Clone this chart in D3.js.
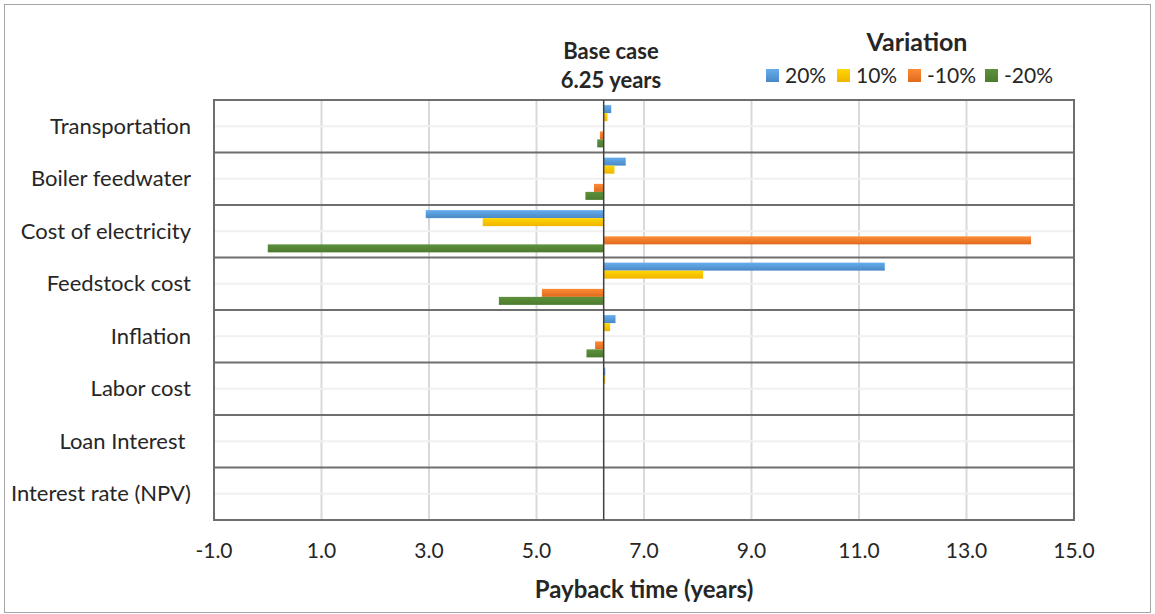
<!DOCTYPE html>
<html>
<head>
<meta charset="utf-8">
<script src="https://cdn.jsdelivr.net/npm/d3@7"></script>
<style>
  body { margin: 0; background: #fff; }
  svg text { font-family: Lato, "Open Sans", sans-serif; fill: #262626; }
</style>
</head>
<body>
<svg id="chart"></svg>
<script>
// Chart data (payback time in years for each +/- variation)
var categories = ["Transportation", "Boiler feedwater", "Cost of electricity", "Feedstock cost",
                  "Inflation", "Labor cost", "Loan Interest ", "Interest rate (NPV)"];
var seriesNames = ["20%", "10%", "-10%", "-20%"];
var plus20 = [6.39, 6.66, 2.94, 11.48, 6.47, 6.28, 6.25, 6.25];
var plus10 = [6.32, 6.45, 4.00, 8.10, 6.37, 6.28, 6.25, 6.25];
var minus10 = [6.18, 6.07, 14.20, 5.10, 6.09, 6.25, 6.25, 6.25];
var minus20 = [6.13, 5.91, 0.00, 4.30, 5.93, 6.25, 6.25, 6.25];
var baseCase = 6.25;
var xTicks = [-1, 1, 3, 5, 7, 9, 11, 13, 15];

var width = 1155;
var height = 614;
var colors = ["#5b9bd5", "#ffc000", "#ed7d31", "#548235"];
var colorsDark = ["#4a88c6", "#f0b400", "#e06a1c", "#4c7a2f"];

var svg = d3.select("#chart").attr("width", width).attr("height", height);

// Outer chart frame
svg.append("rect")
    .attr("x", 4.5).attr("y", 4.5)
    .attr("width", width - 9).attr("height", height - 6)
    .attr("fill", "none").attr("stroke", "#a6a6a6").attr("stroke-width", 1);

var x = d3.scaleLinear().domain([-1, 15]).range([214, 1074]);
var y = d3.scaleBand().domain(categories).range([100, 520]);
var half = d3.scaleBand().domain(["plus", "minus"]).range([0, y.bandwidth()]);
var inner = d3.scaleBand().domain([0, 1]).range([0, half.bandwidth()]).paddingOuter(0.64);

// Gradients for the bar fills
var defs = svg.append("defs");
colors.forEach(function (c, i) {
    var grad = defs.append("linearGradient")
        .attr("id", "grad" + i)
        .attr("x1", 0).attr("y1", 0).attr("x2", 0).attr("y2", 1);
    grad.append("stop").attr("offset", "0%").attr("stop-color", d3.color(c).brighter(0.3));
    grad.append("stop").attr("offset", "100%").attr("stop-color", colorsDark[i]);
});

// Vertical gridlines
svg.append("g").selectAll("line")
    .data(xTicks)
    .join("line")
    .attr("x1", function (d) { return x(d); })
    .attr("x2", function (d) { return x(d); })
    .attr("y1", 100).attr("y2", 520)
    .attr("stroke", "#d9d9d9").attr("stroke-width", 2);

// Light mid-row separators
svg.append("g").selectAll("line")
    .data(categories)
    .join("line")
    .attr("x1", 214).attr("x2", 1074)
    .attr("y1", function (d) { return y(d) + y.bandwidth() / 2; })
    .attr("y2", function (d) { return y(d) + y.bandwidth() / 2; })
    .attr("stroke", "#f0f0f0").attr("stroke-width", 2);

// Bars
var series = [plus20, plus10, minus10, minus20];
var barData = [];
categories.forEach(function (cat, ci) {
    series.forEach(function (vals, si) {
        barData.push({
            cat: cat,
            s: si,
            v: vals[ci],
            group: si < 2 ? "plus" : "minus",
            slot: si % 2
        });
    });
});

svg.append("g").selectAll("rect")
    .data(barData.filter(function (d) { return Math.abs(d.v - baseCase) > 0.001; }))
    .join("rect")
    .attr("x", function (d) { return x(Math.min(d.v, baseCase)); })
    .attr("width", function (d) { return Math.abs(x(d.v) - x(baseCase)); })
    .attr("y", function (d) { return y(d.cat) + half(d.group) + inner(d.slot); })
    .attr("height", inner.bandwidth())
    .attr("fill", function (d) { return "url(#grad" + d.s + ")"; });

// Dark row boundaries
svg.append("g").selectAll("line")
    .data(categories.slice(1))
    .join("line")
    .attr("x1", 214).attr("x2", 1074)
    .attr("y1", function (d) { return y(d); })
    .attr("y2", function (d) { return y(d); })
    .attr("stroke", "#6e6e6e").attr("stroke-width", 2);

// Plot frame
svg.append("rect")
    .attr("x", 214).attr("y", 100)
    .attr("width", 860).attr("height", 420)
    .attr("fill", "none").attr("stroke", "#6e6e6e").attr("stroke-width", 2);

// Base case line
svg.append("line")
    .attr("x1", x(baseCase)).attr("x2", x(baseCase))
    .attr("y1", 100).attr("y2", 520)
    .attr("stroke", "#404040").attr("stroke-width", 1.5);

// Category labels (white-space kept so the trailing space of "Loan Interest " shows)
svg.append("g").selectAll("text")
    .data(categories)
    .join("text")
    .attr("x", 191)
    .attr("y", function (d) { return y(d) + y.bandwidth() / 2; })
    .attr("dy", "0.35em")
    .attr("text-anchor", "end")
    .style("font-size", "22px")
    .style("white-space", "pre")
    .text(function (d) { return d; });

// X tick labels (plain hyphen for the minus sign)
svg.append("g").selectAll("text")
    .data(xTicks)
    .join("text")
    .attr("x", function (d) { return x(d); })
    .attr("y", 558)
    .attr("text-anchor", "middle")
    .style("font-size", "21px")
    .text(function (d) { return d3.format(".1f")(d).replace("\u2212", "-"); });

// Axis title
svg.append("text")
    .attr("x", 644).attr("y", 598)
    .attr("text-anchor", "middle")
    .style("font-size", "24px").style("font-weight", "bold")
    .text("Payback time (years)");

// Base case annotation
svg.append("text")
    .attr("x", 611).attr("y", 59)
    .attr("text-anchor", "middle")
    .style("font-size", "22px").style("font-weight", "bold")
    .text("Base case");
svg.append("text")
    .attr("x", 611).attr("y", 88)
    .attr("text-anchor", "middle")
    .style("font-size", "22px").style("font-weight", "bold")
    .text(baseCase + " years");

// Legend
svg.append("text")
    .attr("x", 917).attr("y", 51)
    .attr("text-anchor", "middle")
    .style("font-size", "25px").style("font-weight", "bold")
    .text("Variation");

var legendX = [766, 837, 908, 985];
var legend = svg.append("g").selectAll("g")
    .data(seriesNames)
    .join("g")
    .attr("transform", function (d, i) { return "translate(" + legendX[i] + ",69)"; });
legend.append("rect")
    .attr("width", 13).attr("height", 13)
    .attr("fill", function (d, i) { return "url(#grad" + i + ")"; });
legend.append("text")
    .attr("x", 19).attr("y", 6.5).attr("dy", "0.35em")
    .style("font-size", "21px")
    .text(function (d) { return d; });
</script>
</body>
</html>
